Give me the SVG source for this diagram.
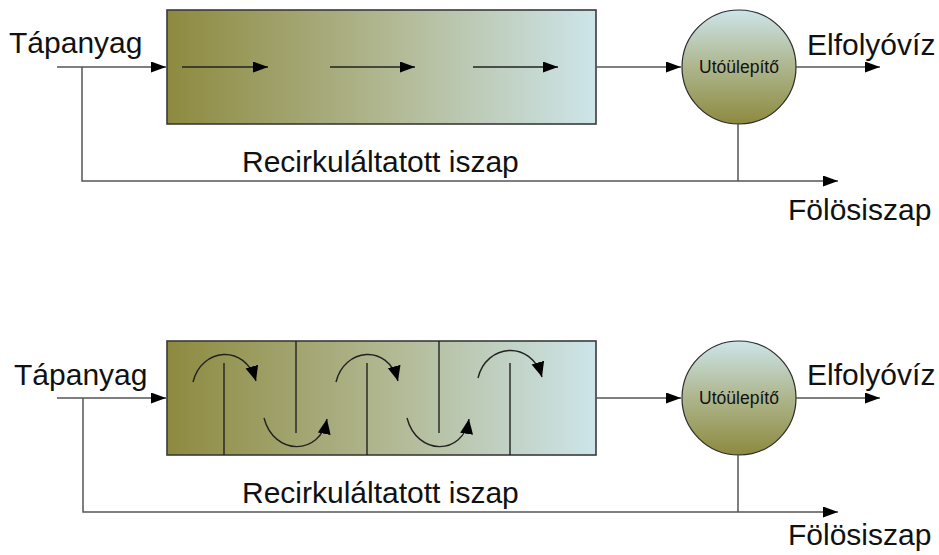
<svg xmlns="http://www.w3.org/2000/svg" width="939" height="555" viewBox="0 0 939 555">
  <style>
    .lbl { font-family: "Liberation Sans", Arial, sans-serif; font-size: 30px; fill: #111; }
    .small { font-family: "Liberation Sans", Arial, sans-serif; font-size: 17.5px; fill: #111; }
    .tank { stroke: #3a3a3a; stroke-width: 1.6; }
    .clar { stroke: #2a2a2a; stroke-width: 1.2; }
    .pipe { fill: none; stroke: #555; stroke-width: 1.5; }
    .flow { fill: none; stroke: #222; stroke-width: 1.4; }
    .baffle { stroke: #222; stroke-width: 1.4; }
  </style>
  <defs>
    <linearGradient id="tankFill" x1="0" y1="0" x2="1" y2="0">
      <stop offset="0" stop-color="#8D8A3F"/>
      <stop offset="0.5" stop-color="#B0B68F"/>
      <stop offset="1" stop-color="#CDE5EA"/>
    </linearGradient>
    <linearGradient id="clarFill" x1="0" y1="0" x2="0" y2="1">
      <stop offset="0" stop-color="#CDE5EA"/>
      <stop offset="0.5" stop-color="#ADB58C"/>
      <stop offset="1" stop-color="#8D8A3F"/>
    </linearGradient>
    <marker id="ah" markerUnits="userSpaceOnUse" markerWidth="16" markerHeight="12" refX="15" refY="5.5" orient="auto">
      <path d="M0,0 L15,5.5 L0,11 Z" fill="#000"/>
    </marker>
    <marker id="ahc" markerUnits="userSpaceOnUse" markerWidth="18" markerHeight="16" refX="15" refY="6.5" orient="auto">
      <path d="M0,0 L15,6.5 L0,13 Z" fill="#000"/>
    </marker>
  </defs>

  <!-- ===== Upper scheme: plug-flow basin ===== -->
  <g id="basin-top">
    <rect x="167" y="10" width="429" height="114" fill="url(#tankFill)" class="tank"/>
    <line x1="182" y1="67" x2="268" y2="67" class="flow" marker-end="url(#ah)"/>
    <line x1="330" y1="67" x2="415" y2="67" class="flow" marker-end="url(#ah)"/>
    <line x1="473" y1="67" x2="558" y2="67" class="flow" marker-end="url(#ah)"/>
  </g>
  <g id="clarifier-top">
    <circle cx="739" cy="67" r="57" fill="url(#clarFill)" class="clar"/>
    <text x="739" y="73" text-anchor="middle" class="small">Utóülepítő</text>
  </g>
  <g id="labels-top">
    <text x="9" y="53" class="lbl" font-size="29">Tápanyag</text>
    <text x="807" y="55" class="lbl">Elfolyóvíz</text>
    <text x="242" y="172" class="lbl">Recirkuláltatott iszap</text>
    <text x="788" y="220" class="lbl">Fölösiszap</text>
  </g>
  <g id="connectors-top">
    <line x1="57" y1="67" x2="166" y2="67" class="pipe" marker-end="url(#ah)"/>
    <line x1="596" y1="67" x2="681" y2="67" class="pipe" marker-end="url(#ah)"/>
    <line x1="796" y1="67" x2="880" y2="67" class="pipe" marker-end="url(#ah)"/>
    <polyline points="82,67 82,181 838,181" class="pipe" marker-end="url(#ah)"/>
    <line x1="738" y1="124" x2="738" y2="181" class="pipe"/>
  </g>

  <!-- ===== Lower scheme: baffled basin ===== -->
  <g id="basin-bottom">
    <rect x="167" y="341" width="429" height="114" fill="url(#tankFill)" class="tank"/>
    <!-- baffles hanging from the top -->
    <line x1="296" y1="341" x2="296" y2="433" class="baffle" stroke="#444"/>
    <line x1="439" y1="341" x2="439" y2="433" class="baffle" stroke="#444"/>
    <!-- baffles rising from the floor -->
    <line x1="224" y1="363" x2="224" y2="455" class="baffle"/>
    <line x1="367" y1="363" x2="367" y2="455" class="baffle"/>
    <line x1="510" y1="363" x2="510" y2="455" class="baffle"/>
    <!-- serpentine flow -->
    <path d="M193,382 C201,348 245,343 256,381" class="flow" marker-end="url(#ahc)"/>
    <path d="M264,418 C274,456 320,456 327,419" class="flow" marker-end="url(#ahc)"/>
    <path d="M336,382 C344,348 388,343 398,381" class="flow" marker-end="url(#ahc)"/>
    <path d="M407,418 C417,456 463,456 469,419" class="flow" marker-end="url(#ahc)"/>
    <path d="M478,378 C486,344 531,339 542,377" class="flow" marker-end="url(#ahc)"/>
  </g>
  <g id="clarifier-bottom">
    <circle cx="739" cy="398" r="57" fill="url(#clarFill)" class="clar"/>
    <text x="739" y="404" text-anchor="middle" class="small">Utóülepítő</text>
  </g>
  <g id="labels-bottom">
    <text x="14" y="385" class="lbl" font-size="29">Tápanyag</text>
    <text x="807" y="385" class="lbl">Elfolyóvíz</text>
    <text x="242" y="503" class="lbl">Recirkuláltatott iszap</text>
    <text x="788" y="545" class="lbl">Fölösiszap</text>
  </g>
  <g id="connectors-bottom">
    <line x1="57" y1="398" x2="166" y2="398" class="pipe" stroke="#222" marker-end="url(#ah)"/>
    <line x1="596" y1="398" x2="681" y2="398" class="pipe" stroke="#222" marker-end="url(#ah)"/>
    <line x1="796" y1="398" x2="880" y2="398" class="pipe" stroke="#222" marker-end="url(#ah)"/>
    <polyline points="83,398 83,512 838,512" class="pipe" stroke="#222" marker-end="url(#ah)"/>
    <line x1="738" y1="455" x2="738" y2="512" class="pipe"/>
  </g>
</svg>
